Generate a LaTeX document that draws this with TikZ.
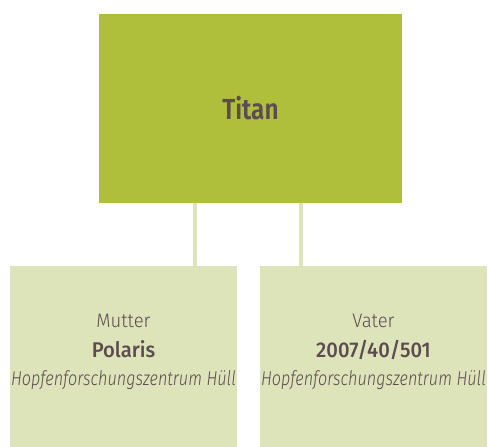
\documentclass[tikz,border=0pt]{standalone}
\usepackage{fontspec}
\setmainfont{Fira Sans}[UprightFont=* Light, ItalicFont=* Light Italic, BoldFont=* Medium, BoldItalicFont=* Medium Italic]
\newfontfamily\titfont{Fira Sans SemiBold}[FakeStretch=0.84]
\newfontfamily\regfont{Fira Sans Light}[FakeStretch=0.95]
\newfontfamily\boldfont{Fira Sans Medium}[FakeStretch=0.95]
\newfontfamily\itfont{Fira Sans Light Italic}[FakeStretch=0.81]
\definecolor{topgreen}{RGB}{175,191,59}
\definecolor{palegreen}{RGB}{222,228,185}
\definecolor{txt}{RGB}{92,75,81}
\begin{document}
\begin{tikzpicture}[x=1pt,y=-1pt,
  topbox/.style={fill=topgreen, draw=none, inner sep=0pt, minimum width=303pt, minimum height=189pt},
  parentbox/.style={fill=palegreen, draw=none, inner sep=0pt, minimum width=227pt, minimum height=181pt},
  conn/.style={draw=palegreen, line width=4pt},
  lbl/.style={text=txt, inner sep=0pt, anchor=base},
  regtxt/.style={lbl, font=\regfont\fontsize{19.5}{23}\selectfont},
  boldtxt/.style={lbl, font=\boldfont\fontsize{21.3}{25}\selectfont},
  ittxt/.style={lbl, font=\itfont\fontsize{20}{24}\selectfont}]
\useasboundingbox (0,0) rectangle (488,447);
\node[topbox] (titan) at (250.5,108.5) {};
\node[parentbox] (mom) at (123.5,356.5) {};
\node[parentbox] (dad) at (373.5,356.5) {};
\coordinate (c1) at (195,0);
\coordinate (c2) at (301,0);
\draw[conn] (titan.south -| c1) -- (mom.north -| c1);
\draw[conn] (titan.south -| c2) -- (dad.north -| c2);
\node[lbl, font=\titfont\fontsize{29}{34}\selectfont] (ttl) at (250.5,119) {Titan};
\node[regtxt] (m1) at (123.5,327) {Mutter};
\node[boldtxt] (m2) at (123.5,357) {Polaris};
\node[ittxt] (m3) at (123.5,385) {Hopfenforschungszentrum Hüll};
\node[regtxt] (v1) at (373.5,327) {Vater};
\node[boldtxt] (v2) at (373.5,357) {2007/40/501};
\node[ittxt] (v3) at (373.5,385) {Hopfenforschungszentrum Hüll};
\end{tikzpicture}
\end{document}
